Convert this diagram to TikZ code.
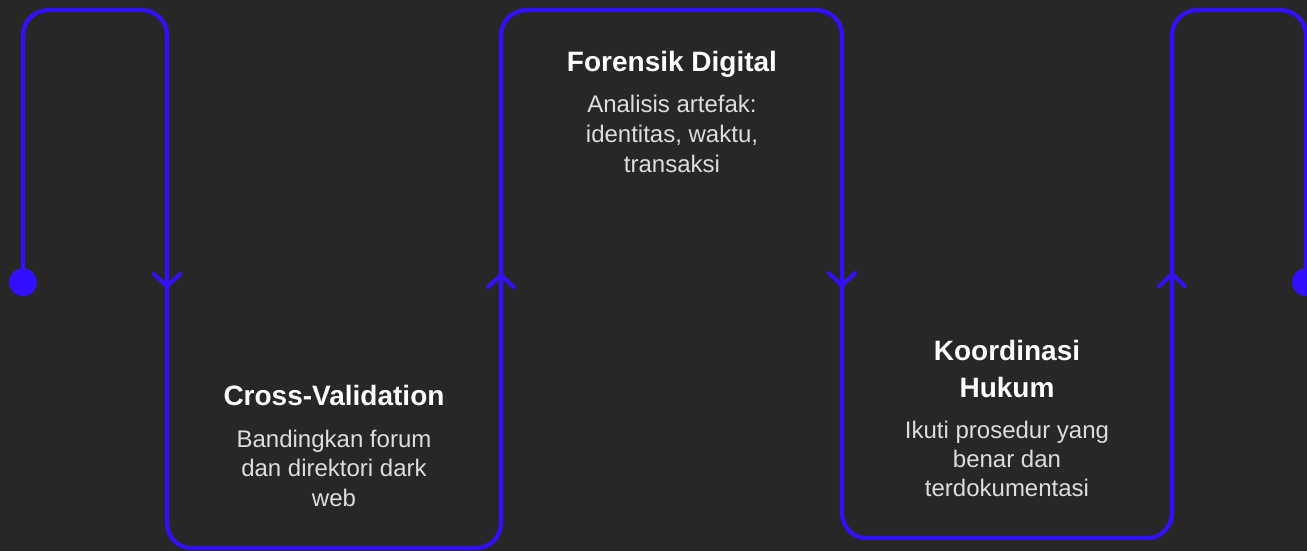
\documentclass[tikz,border=0pt]{standalone}
\usepackage{fontspec}
\setmainfont{Liberation Sans}
\definecolor{bgc}{RGB}{40,39,39}
\definecolor{flow}{RGB}{48,16,255}
\definecolor{bodyc}{RGB}{224,220,220}
\begin{document}
\begin{tikzpicture}[x=1pt,y=-1pt,
  flowline/.style={draw=flow,line width=4.2pt,rounded corners=25pt},
  chev/.style={draw=flow,line width=4pt,line cap=round,line join=round},
  title/.style={anchor=base,inner sep=0pt,text=white,font=\bfseries\fontsize{28}{34}\selectfont},
  body/.style={anchor=base,inner sep=0pt,text=bodyc,font=\fontsize{24}{29}\selectfont}]
\fill[bgc] (0,0) rectangle (1307,551);
\useasboundingbox (0,0) rectangle (1307,551);
% path corners
\coordinate (s) at (23,282);
\coordinate (p1) at (23,10);
\coordinate (p2) at (167,10);
\coordinate (p3) at (167,548);
\coordinate (p4) at (501,548);
\coordinate (p5) at (501,10);
\coordinate (p6) at (842,10);
\coordinate (p7) at (842,538);
\coordinate (p8) at (1172,538);
\coordinate (p9) at (1172,10);
\coordinate (p10) at (1306,10);
\coordinate (e) at (1306,282);
\draw[flowline] (s) -- (p1) -- (p2) -- (p3) -- (p4) -- (p5) -- (p6) -- (p7) -- (p8) -- (p9) -- (p10) -- (e);
\fill[flow] (s) circle (14);
\fill[flow] (e) circle (14);
% chevrons
\coordinate (c1) at (167,286);
\coordinate (c2) at (501,275);
\coordinate (c3) at (842,285);
\coordinate (c4) at (1172,274);
\draw[chev] ([shift={(-13,-12)}]c1) -- (c1) -- ([shift={(13,-12)}]c1);
\draw[chev] ([shift={(-13,12)}]c2) -- (c2) -- ([shift={(13,12)}]c2);
\draw[chev] ([shift={(-13,-12)}]c3) -- (c3) -- ([shift={(13,-12)}]c3);
\draw[chev] ([shift={(-13,12)}]c4) -- (c4) -- ([shift={(13,12)}]c4);
% Forensik Digital
\node[title] (t1) at (672,72) {Forensik Digital};
\node[body] (b1a) at (672,113) {Analisis artefak:};
\node[body] (b1b) at (672,142.5) {identitas, waktu,};
\node[body] (b1c) at (672,172) {transaksi};
% Cross-Validation
\node[title] (t2) at (334,405) {Cross-Validation};
\node[body] (b2a) at (334,447) {Bandingkan forum};
\node[body] (b2b) at (334,476.5) {dan direktori dark};
\node[body] (b2c) at (334,506) {web};
% Koordinasi Hukum
\node[title] (t3a) at (1007,360) {Koordinasi};
\node[title] (t3b) at (1007,397) {Hukum};
\node[body] (b3a) at (1007,438) {Ikuti prosedur yang};
\node[body] (b3b) at (1007,467) {benar dan};
\node[body] (b3c) at (1007,496) {terdokumentasi};
\end{tikzpicture}
\end{document}
